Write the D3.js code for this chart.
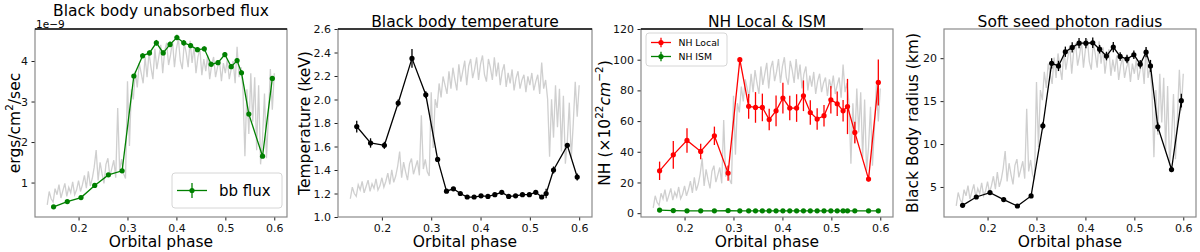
<!DOCTYPE html>
<html lang="en">
<head>
<meta charset="UTF-8">
<title>Black body parameters vs orbital phase</title>
<script src="https://cdn.jsdelivr.net/npm/d3@7"></script>
<style>
  body { margin: 0; background: #fff; }
  text { font-family: "DejaVu Sans", sans-serif; }
</style>
</head>
<body>
<script>
// orbital phase of each spectral fit
var phase = [0.149, 0.177, 0.205, 0.233, 0.261, 0.289, 0.313, 0.331, 0.345, 0.359, 0.373, 0.387, 0.401,
             0.415, 0.429, 0.443, 0.457, 0.471, 0.485, 0.499, 0.512, 0.524, 0.533, 0.548, 0.576, 0.596];

// bb unabsorbed flux (1e-9 ergs/cm2/sec)
var bbFlux = [0.40, 0.53, 0.63, 0.93, 1.19, 1.29, 3.63, 4.13, 4.20, 4.45, 4.20, 4.41, 4.58,
              4.45, 4.38, 4.28, 4.30, 3.92, 3.96, 4.16, 3.86, 4.01, 3.71, 2.69, 1.65, 3.57];
var bbFluxErr = [0.03, 0.03, 0.03, 0.03, 0.03, 0.03, 0.05, 0.06, 0.06, 0.07, 0.06, 0.07, 0.07,
                 0.07, 0.06, 0.06, 0.06, 0.06, 0.06, 0.06, 0.06, 0.06, 0.06, 0.05, 0.04, 0.06];

// bb temperature (keV)
var bbTemp = [1.77, 1.63, 1.61, 1.97, 2.35, 2.04, 1.49, 1.22, 1.24, 1.20, 1.17, 1.17, 1.18,
              1.175, 1.19, 1.21, 1.175, 1.18, 1.19, 1.19, 1.21, 1.17, 1.20, 1.40, 1.61, 1.34];
var bbTempErr = [0.05, 0.04, 0.03, 0.03, 0.08, 0.03, 0.015, 0.01, 0.01, 0.01, 0.01, 0.01, 0.01,
                 0.01, 0.01, 0.01, 0.01, 0.01, 0.01, 0.01, 0.01, 0.01, 0.04, 0.03, 0.02, 0.03];

// local and ISM absorption (1e22 cm-2)
var nhLocal = [27.6, 38.0, 47.4, 40.2, 50.4, 26.1, 100, 69.6, 68.9, 68.9, 61.0, 66.7, 75.0,
               68.5, 68.5, 76.5, 65.6, 61.3, 63.5, 73.9, 71.3, 66.7, 69.5, 52.6, 22.2, 85.2];
var nhLocalErr = [6, 9, 8, 5, 6, 5, 1.5, 8, 10, 9, 7, 10, 10, 8, 9, 10, 8, 7, 7, 9, 8, 7, 18, 7, 1.5, 15];
var nhISM = [2.0, 1.7, 1.5, 1.5, 1.5, 1.7, 1.5, 1.5, 1.5, 1.5, 1.5, 1.5, 1.5,
             1.5, 1.5, 1.5, 1.5, 1.5, 1.5, 1.5, 1.5, 1.5, 1.5, 1.5, 1.5, 1.5];
var nhISMErr = [0.3, 0.3, 0.3, 0.3, 0.3, 0.3, 0.3, 0.3, 0.3, 0.3, 0.3, 0.3, 0.3,
                0.3, 0.3, 0.3, 0.3, 0.3, 0.3, 0.3, 0.3, 0.3, 0.3, 0.3, 0.3, 0.3];

// bb radius (km)
var bbRadius = [2.86, 3.83, 4.34, 3.53, 2.78, 3.95, 12.13, 19.4, 19.1, 20.75, 21.25, 21.75, 21.75,
                21.8, 21.05, 20.25, 21.3, 20.2, 19.9, 20.4, 19.3, 20.7, 19.1, 12.0, 7.03, 15.05];
var bbRadiusErr = [0.2, 0.2, 0.2, 0.2, 0.2, 0.2, 0.4, 0.6, 0.6, 0.6, 0.6, 0.6, 0.6,
                   0.6, 0.5, 0.5, 0.6, 0.5, 0.5, 0.5, 0.5, 0.6, 0.7, 0.5, 0.3, 0.8];

// background light curve (grey), arbitrary rate units
var lcPhase = [0.136, 0.140, 0.144, 0.148, 0.152, 0.156, 0.160, 0.164, 0.168, 0.172, 0.176, 0.180,
               0.184, 0.188, 0.192, 0.196, 0.200, 0.204, 0.208, 0.212, 0.216, 0.220, 0.224, 0.228,
               0.232, 0.236, 0.240, 0.244, 0.248, 0.252, 0.256, 0.260, 0.264, 0.268, 0.272, 0.276,
               0.280, 0.284, 0.288, 0.292, 0.296, 0.300, 0.304, 0.308, 0.312, 0.316, 0.320, 0.324,
               0.328, 0.332, 0.336, 0.340, 0.344, 0.348, 0.352, 0.356, 0.360, 0.364, 0.368, 0.372,
               0.376, 0.380, 0.384, 0.388, 0.392, 0.396, 0.400, 0.404, 0.408, 0.412, 0.416, 0.420,
               0.424, 0.428, 0.432, 0.436, 0.440, 0.444, 0.448, 0.452, 0.456, 0.460, 0.464, 0.468,
               0.472, 0.476, 0.480, 0.484, 0.488, 0.492, 0.496, 0.500, 0.504, 0.508, 0.512, 0.516,
               0.520, 0.524, 0.528, 0.532, 0.536, 0.540, 0.544, 0.548, 0.552, 0.556, 0.560, 0.564,
               0.568, 0.572, 0.576, 0.580, 0.584, 0.588, 0.592, 0.596, 0.600];
var lcRate = [0.45, 0.78, 0.60, 0.52, 0.85, 0.70, 0.95, 0.62, 0.80, 0.98, 0.66, 0.88,
              0.75, 1.02, 0.70, 0.82, 1.05, 0.78, 0.95, 1.18, 0.86, 1.28, 0.92, 1.10,
              1.38, 1.80, 1.05, 1.50, 1.22, 0.98, 1.45, 1.60, 1.15, 1.35, 1.55, 1.12,
              2.84, 1.30, 1.58, 1.22, 1.10, 3.50, 1.90, 3.30, 3.05, 3.75, 3.35, 3.95,
              3.70, 3.45, 4.10, 3.60, 4.20, 3.85, 3.55, 4.30, 3.80, 4.10, 4.40, 3.70,
              4.25, 4.45, 3.90, 4.15, 4.50, 3.85, 4.30, 4.55, 4.00, 3.80, 4.45, 4.20,
              3.85, 4.50, 3.95, 4.35, 3.70, 4.10, 4.30, 3.65, 4.05, 3.75, 4.15, 3.55,
              3.90, 4.10, 3.60, 3.85, 4.00, 3.50, 3.95, 3.70, 4.05, 3.55, 3.80, 4.00,
              3.45, 4.35, 3.60, 3.85, 3.30, 1.65, 3.30, 2.20, 3.70, 2.50, 3.60, 1.80,
              3.40, 1.45, 2.10, 3.20, 1.60, 2.60, 3.80, 2.80, 3.70];

var xTicks = [0.2, 0.3, 0.4, 0.5, 0.6];

var width = 1200, height = 252;
var svg = d3.select("body").append("svg")
    .attr("width", width)
    .attr("height", height);

var panels = [
    {left: 35, top: 29, w: 252, h: 188, yDomain: [0.15, 4.79], yTicks: [1, 2, 3, 4], fmt: d3.format("d"),
     title: "Black body unabsorbed flux", titleY: 16, labelX: 15, topLine: 287,
     lcRange: [0.6, 4.4],
     series: [{y: bbFlux, err: bbFluxErr, color: "green", name: "bb flux"}],
     legend: {x: 172, y: 173, w: 110, h: 35, font: 15, row: 21, sample: 30}},
    {left: 338, top: 29, w: 254, h: 188, yDomain: [1.0, 2.6], yTicks: d3.range(1.0, 2.61, 0.2), fmt: d3.format(".1f"),
     title: "Black body temperature", titleY: 26.5, labelX: 305, topLine: 592,
     lcRange: [1.2, 2.33],
     series: [{y: bbTemp, err: bbTempErr, color: "black"}]},
    {left: 641, top: 29, w: 252, h: 188, yDomain: [-2.5, 120], yTicks: [0, 20, 40, 60, 80, 100, 120], fmt: d3.format("d"),
     title: "NH Local & ISM", titleY: 26.5, labelX: 605, topLine: 863,
     lcRange: [7, 98],
     series: [{y: nhLocal, err: nhLocalErr, color: "red", name: "NH Local"},
              {y: nhISM, err: nhISMErr, color: "green", name: "NH ISM"}],
     legend: {x: 646, y: 33, w: 81, h: 33, font: 9.3, row: 14, sample: 20}},
    {left: 944, top: 29, w: 252, h: 188, yDomain: [1.5, 23.4], yTicks: [5, 10, 15, 20], fmt: d3.format("d"),
     title: "Soft seed photon radius", titleY: 26.5, labelX: 913, topLine: null,
     lcRange: [3.5, 21.5],
     series: [{y: bbRadius, err: bbRadiusErr, color: "black"}]}
];

function drawPanel(p, i) {
    var x = d3.scaleLinear().domain([0.111, 0.626]).range([p.left, p.left + p.w]);
    var y = d3.scaleLinear().domain(p.yDomain).range([p.top + p.h, p.top]);
    var lcY = d3.scaleLinear().domain([0.6, 4.4]).range(p.lcRange);
    var g = svg.append("g");

    // grey light curve behind the fits
    g.append("path")
        .datum(lcPhase)
        .attr("fill", "none")
        .attr("stroke", "#cfcfcf")
        .attr("stroke-width", 1.3)
        .attr("d", d3.line()
            .x(function(d) { return x(d); })
            .y(function(d, j) { return y(lcY(lcRate[j])); }));

    p.series.forEach(function(s) {
        g.append("path")
            .datum(phase)
            .attr("fill", "none")
            .attr("stroke", s.color)
            .attr("stroke-width", 1.3)
            .attr("d", d3.line()
                .x(function(d) { return x(d); })
                .y(function(d, j) { return y(s.y[j]); }));
        g.selectAll(null).data(phase).enter().append("line")
            .attr("x1", function(d) { return x(d); })
            .attr("x2", function(d) { return x(d); })
            .attr("y1", function(d, j) { return y(s.y[j] - s.err[j]); })
            .attr("y2", function(d, j) { return y(s.y[j] + s.err[j]); })
            .attr("stroke", s.color)
            .attr("stroke-width", 1.3);
        g.selectAll(null).data(phase).enter().append("circle")
            .attr("cx", function(d) { return x(d); })
            .attr("cy", function(d, j) { return y(s.y[j]); })
            .attr("r", 2.6)
            .attr("fill", s.color);
    });

    // axes
    var xa = g.append("g")
        .attr("transform", "translate(0," + (p.top + p.h) + ")")
        .call(d3.axisBottom(x).tickValues(xTicks).tickSize(3.5).tickPadding(3.5).tickFormat(d3.format(".1f")));
    var ya = g.append("g")
        .attr("transform", "translate(" + p.left + ",0)")
        .call(d3.axisLeft(y).tickValues(p.yTicks).tickSize(3.5).tickPadding(3.5).tickFormat(p.fmt));
    [xa, ya].forEach(function(a) {
        a.select(".domain").remove();
        a.selectAll("text").attr("font-size", 11).attr("fill", "#111")
            .attr("font-family", "DejaVu Sans");
        a.selectAll("line").attr("stroke", "#222");
    });

    // frame
    g.append("rect")
        .attr("x", p.left).attr("y", p.top)
        .attr("width", p.w).attr("height", p.h)
        .attr("fill", "none")
        .attr("stroke", "#8a8a8a")
        .attr("stroke-width", 1.2);
    if (p.topLine) {
        g.append("line")
            .attr("x1", p.left).attr("x2", p.topLine)
            .attr("y1", p.top).attr("y2", p.top)
            .attr("stroke", "#111")
            .attr("stroke-width", 1.3);
    }

    // title and axis labels
    g.append("text")
        .attr("x", p.left + p.w / 2).attr("y", p.titleY)
        .attr("text-anchor", "middle")
        .attr("font-size", 15.5)
        .text(p.title);
    g.append("text")
        .attr("x", p.left + p.w / 2).attr("y", 247)
        .attr("text-anchor", "middle")
        .attr("font-size", 15.5)
        .text("Orbital phase");

    var yl = g.append("text")
        .attr("transform", "translate(" + p.labelX + "," + (p.top + p.h / 2) + ") rotate(-90)")
        .attr("text-anchor", "middle")
        .attr("dominant-baseline", "central")
        .attr("font-size", 15.5);
    if (i === 0) {
        yl.append("tspan").text("ergs/cm");
        yl.append("tspan").attr("dy", -6).attr("font-size", 10.5).text("2");
        yl.append("tspan").attr("dy", 6).text("/sec");
    } else if (i === 1) {
        yl.text("Temperature (keV)");
    } else if (i === 2) {
        yl.append("tspan").text("NH (\u00d710");
        yl.append("tspan").attr("dy", -6).attr("font-size", 10.5).text("22");
        yl.append("tspan").attr("dy", 6).attr("font-style", "italic").text("cm");
        yl.append("tspan").attr("dy", -6).attr("font-size", 10.5).text("\u22122");
        yl.append("tspan").attr("dy", 6).text(")");
    } else {
        yl.text("Black Body radius (km)");
    }

    if (i === 0) {
        g.append("text")
            .attr("x", p.left + 1).attr("y", 27.5)
            .attr("font-size", 10.5)
            .text("1e\u22129");
    }

    // legend
    if (p.legend) {
        var L = p.legend;
        g.append("rect")
            .attr("x", L.x).attr("y", L.y).attr("width", L.w).attr("height", L.h)
            .attr("rx", 3)
            .attr("fill", "#fff").attr("fill-opacity", 0.85)
            .attr("stroke", "#d6d6d6");
        p.series.forEach(function(s, k) {
            var cy = L.y + L.h / 2 - (p.series.length - 1) * L.row / 2 + k * L.row;
            var x0 = L.x + 5;
            g.append("line")
                .attr("x1", x0).attr("x2", x0 + L.sample)
                .attr("y1", cy).attr("y2", cy)
                .attr("stroke", s.color).attr("stroke-width", 1.3);
            g.append("line")
                .attr("x1", x0 + L.sample / 2).attr("x2", x0 + L.sample / 2)
                .attr("y1", cy - L.font * 0.5).attr("y2", cy + L.font * 0.5)
                .attr("stroke", s.color).attr("stroke-width", 1.3);
            g.append("circle")
                .attr("cx", x0 + L.sample / 2).attr("cy", cy).attr("r", 2.6)
                .attr("fill", s.color);
            g.append("text")
                .attr("x", x0 + L.sample + L.font * 0.8).attr("y", cy)
                .attr("dominant-baseline", "central")
                .attr("font-size", L.font)
                .text(s.name);
        });
    }
}

panels.forEach(drawPanel);
</script>
</body>
</html>
